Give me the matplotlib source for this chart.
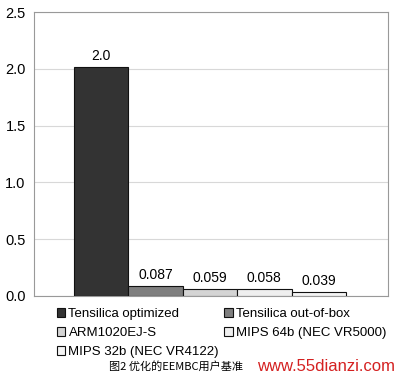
import matplotlib.pyplot as plt
import numpy as np

plt.rcParams['font.family'] = ['Liberation Sans', 'DejaVu Sans', 'Noto Sans CJK SC']

names = ['Tensilica optimized', 'Tensilica out-of-box', 'ARM1020EJ-S',
         'MIPS 64b (NEC VR5000)', 'MIPS 32b (NEC VR4122)']
values = [2.02, 0.087, 0.059, 0.058, 0.039]
labels = ['2.0', '0.087', '0.059', '0.058', '0.039']
colors = ['#333333', '#7f7f7f', '#d4d4d4', '#efefef', '#f4f4f4']
yticks = [0.0, 0.5, 1.0, 1.5, 2.0, 2.5]

fig = plt.figure(figsize=(4, 3.78), dpi=100)
ax = fig.add_axes([0.085, 0.217, 0.885, 0.751])

x = np.arange(len(values))
bars = ax.bar(x, values, width=1.0, color=colors, edgecolor='#111111',
              linewidth=0.8, zorder=3)
for xi, v, t in zip(x, values, labels):
    ax.text(xi, v + 0.035, t, ha='center', va='bottom', fontsize=10)

ax.set_xlim(-1.23, 5.27)
ax.set_ylim(0, 2.5)
ax.set_yticks(yticks)
ax.set_yticklabels(['%.1f' % t for t in yticks], fontsize=10.5)
ax.set_xticks([])
ax.tick_params(axis='y', length=0, pad=6)
ax.grid(axis='y', color='#d8d8d8', linewidth=0.8, zorder=0)
for s in ax.spines.values():
    s.set_color('#999999')
    s.set_linewidth(0.8)

# legend fills row by row in the original
order = [0, 2, 4, 1, 3]
fig.legend(handles=[bars[i] for i in order], labels=[names[i] for i in order],
           loc='upper left', bbox_to_anchor=(0.125, 0.203), ncol=2,
           frameon=False, fontsize=9.5,
           handlelength=0.65, handleheight=0.65, handletextpad=0.25,
           columnspacing=0.4, labelspacing=0.55, borderpad=0)

fig.text(0.44, 0.03, '图2 优化的EEMBC用户基准', ha='center', va='center',
         fontsize=8, family=['Noto Sans CJK SC', 'DejaVu Sans'])
fig.text(0.988, 0.03, 'www.55dianzi.com', ha='right', va='center',
         fontsize=12, color='#d42020')

fig.savefig('out.png', dpi=100)
